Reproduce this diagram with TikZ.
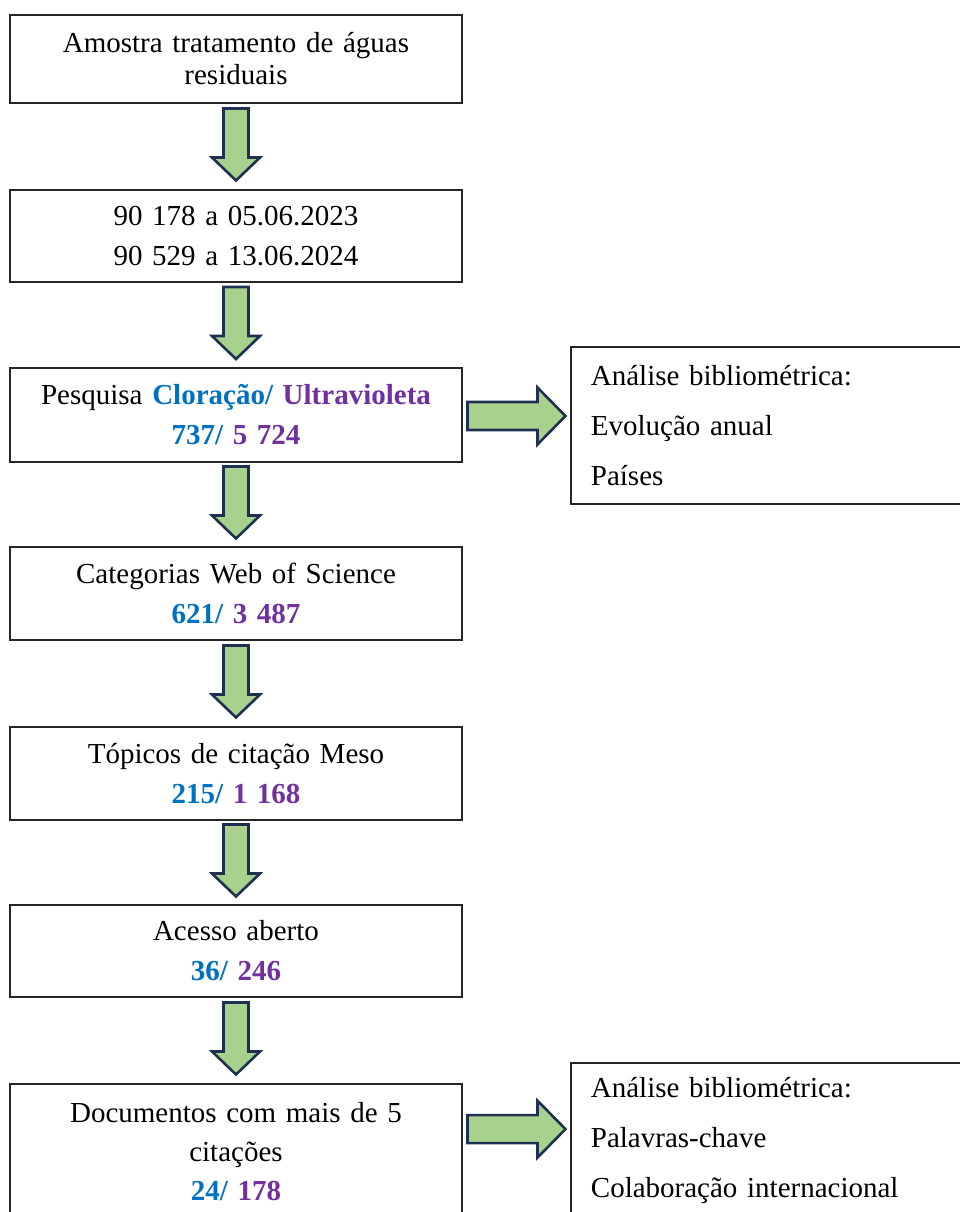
\documentclass[tikz,border=0pt]{standalone}
\usepackage{fontspec}
\setmainfont{Liberation Serif}
\usetikzlibrary{calc}
\definecolor{cblue}{HTML}{0070C0}
\definecolor{cpurple}{HTML}{7030A0}
\definecolor{arrfill}{HTML}{A9D18E}
\definecolor{arredge}{HTML}{203050}
\newcommand{\cl}[1]{\textbf{\color{cblue}#1}}
\newcommand{\uv}[1]{\textbf{\color{cpurple}#1}}
\tikzset{
  stepbox/.style={draw=black!85, line width=1.8pt, rectangle, minimum width=452pt,
    text width=440pt, align=center, inner sep=6pt,
    font=\fontsize{29}{40}\selectfont},
  sidebox/.style={draw=black!85, line width=1.8pt, rectangle, anchor=north west,
    text width=390pt, align=left, inner xsep=20pt, inner ysep=0pt,
    font=\fontsize{29}{50}\selectfont},
  blockarrow/.style={fill=arrfill, draw=arredge, line width=2.6pt, line join=miter},
  downarr/.pic={\draw[blockarrow] (-12.5,-36) -- (12.5,-36) -- (12.5,13) -- (24,13)
      -- (0,36) -- (-24,13) -- (-12.5,13) -- cycle;},
  rightarr/.pic={\draw[blockarrow] (-49,-14) -- (21,-14) -- (21,-28.5) -- (49,0)
      -- (21,28.5) -- (21,14) -- (-49,14) -- cycle;}
}
\begin{document}
\begin{tikzpicture}[x=1pt,y=-1pt]
\useasboundingbox (0,0) rectangle (960,1212);
\clip (0,0) rectangle (960,1212);

% main column
\node[stepbox, minimum height=88pt, font=\fontsize{29}{32}\selectfont] (b1) at (236,59)
  {Amostra tratamento de águas\\residuais};
\node[stepbox, minimum height=92pt] (b2) at (236,236)
  {90 178 a 05.06.2023\\90 529 a 13.06.2024};
\node[stepbox, minimum height=94pt] (b3) at (236,415)
  {Pesquisa \cl{Cloração/} \uv{Ultravioleta}\\\cl{737/} \uv{5 724}};
\node[stepbox, minimum height=93pt] (b4) at (236,593.5)
  {Categorias Web of Science\\\cl{621/} \uv{3 487}};
\node[stepbox, minimum height=93pt] (b5) at (236,773.5)
  {Tópicos de citação Meso\\\cl{215/} \uv{1 168}};
\node[stepbox, minimum height=92pt] (b6) at (236,951)
  {Acesso aberto\\\cl{36/} \uv{246}};
\node[stepbox, minimum height=136pt, font=\fontsize{29}{39}\selectfont] (b7) at (236,1152)
  {Documentos com mais de 5\\citações\\\cl{24/} \uv{178}};

% side boxes
\node[sidebox, minimum height=157pt] (r1) at (570,346)
  {Análise bibliométrica:\\Evolução anual\\Países};
\node[sidebox, minimum height=156pt] (r2) at (570,1062)
  {Análise bibliométrica:\\Palavras-chave\\Colaboração internacional};

% block arrows between the steps
\path ($(b1.south)!0.5!(b2.north)+(0,-2)$) pic {downarr};
\path ($(b2.south)!0.5!(b3.north)+(0,-2)$) pic {downarr};
\path ($(b3.south)!0.5!(b4.north)+(0,-2)$) pic {downarr};
\path ($(b4.south)!0.5!(b5.north)+(0,-2)$) pic {downarr};
\path ($(b5.south)!0.5!(b6.north)+(0,-2)$) pic {downarr};
\path ($(b6.south)!0.5!(b7.north)+(0,-2)$) pic {downarr};
\path ($(b3.east)!0.5!(b3.east -| r1.west)+(0,1)$) pic {rightarr};
\path ($(b7.north east)!0.5!(b7.north east -| r2.west)+(0,46)$) pic {rightarr};
\end{tikzpicture}
\end{document}
